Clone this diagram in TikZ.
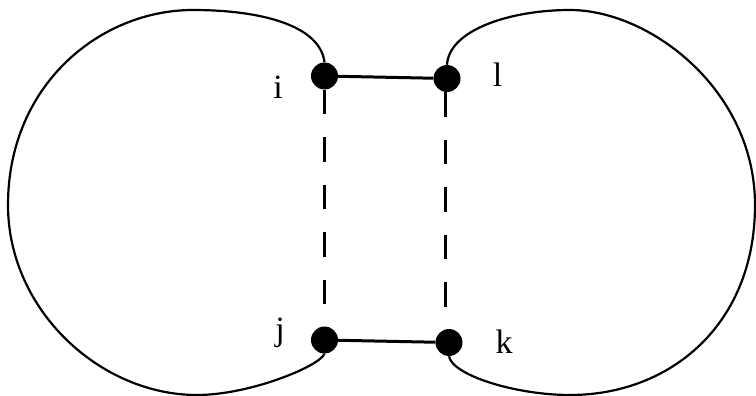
\documentclass[tikz,border=0pt]{standalone}
\usepackage{fontspec}
\setmainfont{Liberation Serif}
\begin{document}
\begin{tikzpicture}[x=1pt,y=-1pt,
  vdot/.style={circle,fill=black,inner sep=0pt,minimum size=27pt},
  lbl/.style={anchor=base,inner sep=0pt,font=\fontsize{34}{40}\selectfont},
  loopline/.style={line width=2.2pt},
  bar/.style={line width=3pt},
  dashline/.style={line width=3pt,dash pattern=on 24.5pt off 23pt}]
\useasboundingbox (0,0) rectangle (756,396);
\node[vdot] (i) at (324.5,76) {};
\node[vdot] (l) at (447,78.5) {};
\node[vdot] (j) at (324.5,340) {};
\node[vdot] (k) at (449,342.5) {};
\node[lbl] (ti) at (278,99) {i};
\node[lbl] (tl) at (497.5,87) {l};
\node[lbl] (tj) at (280,340) {j};
\node[lbl] (tk) at (504,353) {k};
\draw[bar] (i) -- (l);
\draw[bar] (j) -- (k);
\draw[dashline] (i.south) -- (j.north);
\draw[dashline] ([xshift=-2pt]l.south) -- ([xshift=-4pt]k.north);
\draw[loopline] (i.north) .. controls (320,25) and (260,10) .. (193,10)
  .. controls (100,10) and (8,85) .. (8,205)
  .. controls (8,310) and (100,395) .. (197,395)
  .. controls (250,395) and (320,366) .. (j.south);
\draw[loopline] (l.north) .. controls (449,30) and (510,10) .. (570,10)
  .. controls (650,10) and (755,90) .. (755,205)
  .. controls (755,325) and (670,395) .. (570,395)
  .. controls (515,395) and (452,375) .. (k.south);
\end{tikzpicture}
\end{document}
